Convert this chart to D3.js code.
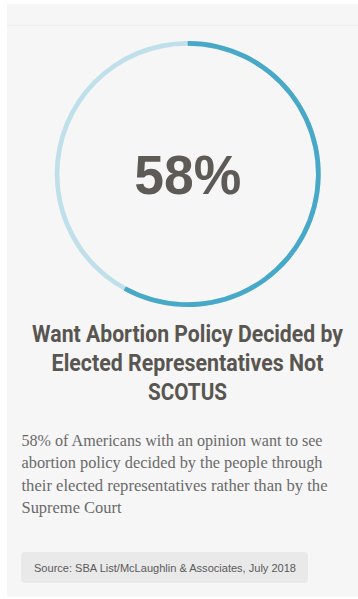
<!DOCTYPE html>
<html>
<head>
<meta charset="utf-8">
<script src="https://cdn.jsdelivr.net/npm/d3@7"></script>
<style>
  html, body { margin: 0; padding: 0; background: #ffffff; }
  svg { display: block; }
</style>
</head>
<body>
<svg id="chart" width="358" height="599"></svg>
<script>
// Share of respondents (with an opinion) preferring elected representatives
const shareValue = [58];
const shareTotal = [100];
const valueLabel = ["58%"];
const titleLines = ["Want Abortion Policy Decided by", "Elected Representatives Not", "SCOTUS"];
const bodyLines = [
  "58% of Americans with an opinion want to see",
  "abortion policy decided by the people through",
  "their elected representatives rather than by the",
  "Supreme Court"
];
const sourceText = ["Source: SBA List/McLaughlin & Associates, July 2018"];

const svg = d3.select("#chart");

// card background
svg.append("rect").attr("x", 7).attr("y", 4).attr("width", 351).attr("height", 593).attr("fill", "#f6f6f6");
svg.append("rect").attr("x", 7).attr("y", 24.5).attr("width", 351).attr("height", 1.5).attr("fill", "#efefef");

// ring gauge
const cx = 187.7, cy = 174;
const angle = d3.scaleLinear().domain([0, shareTotal[0]]).range([0, 2 * Math.PI]);
const arc = d3.arc().innerRadius(128.3).outerRadius(133);
const g = svg.append("g").attr("transform", `translate(${cx},${cy})`);
g.append("path")
  .attr("d", arc({ startAngle: 0, endAngle: angle(shareTotal[0]) }))
  .attr("fill", "#bfe0ea");
g.append("path")
  .attr("d", arc({ startAngle: 0, endAngle: angle(shareValue[0]) }))
  .attr("fill", "#47a8c8");

g.append("text")
  .attr("x", 0).attr("y", 19.5)
  .attr("text-anchor", "middle")
  .attr("font-family", "Liberation Sans, Arial, sans-serif")
  .attr("font-weight", "bold")
  .attr("font-size", 55)
  .attr("fill", "#5e5b56")
  .attr("textLength", 107)
  .attr("lengthAdjust", "spacingAndGlyphs")
  .text(valueLabel[0]);

// title: bold sans squeezed horizontally to a condensed look
const titleWidths = [311, 272, 79];
const titleBase = [341.5, 370.5, 399.5];
titleLines.forEach((line, i) => {
  const tg = svg.append("g");
  const t = tg.append("text")
    .attr("x", 0).attr("y", 0)
    .attr("text-anchor", "middle")
    .attr("font-family", "Roboto, sans-serif")
    .attr("font-weight", "bold")
    .attr("font-size", 23)
    .attr("fill", "#595651")
    .text(line);
  const natural = t.node().getComputedTextLength();
  tg.attr("transform", `translate(187.5,${titleBase[i]}) scale(${titleWidths[i] / natural},1)`);
});

// description
const bodyWidths = [301, 301, 306, 100];
svg.append("g").selectAll("text").data(bodyLines).join("text")
  .attr("x", 21.5)
  .attr("y", (d, i) => 446 + i * 22.3)
  .attr("font-family", "Liberation Serif, DejaVu Serif, serif")
  .attr("font-size", 17)
  .attr("fill", "#6a6a6a")
  .attr("textLength", (d, i) => bodyWidths[i])
  .attr("lengthAdjust", "spacingAndGlyphs")
  .text(d => d);

// source badge
svg.append("rect")
  .attr("x", 21).attr("y", 552).attr("width", 287).attr("height", 31)
  .attr("rx", 4).attr("fill", "#e9e9e9");
svg.append("text")
  .attr("x", 34).attr("y", 571.5)
  .attr("font-family", "Liberation Sans, Arial, sans-serif")
  .attr("font-size", 11)
  .attr("fill", "#5a5a5a")
  .attr("textLength", 262)
  .attr("lengthAdjust", "spacingAndGlyphs")
  .text(sourceText[0]);
</script>
</body>
</html>
